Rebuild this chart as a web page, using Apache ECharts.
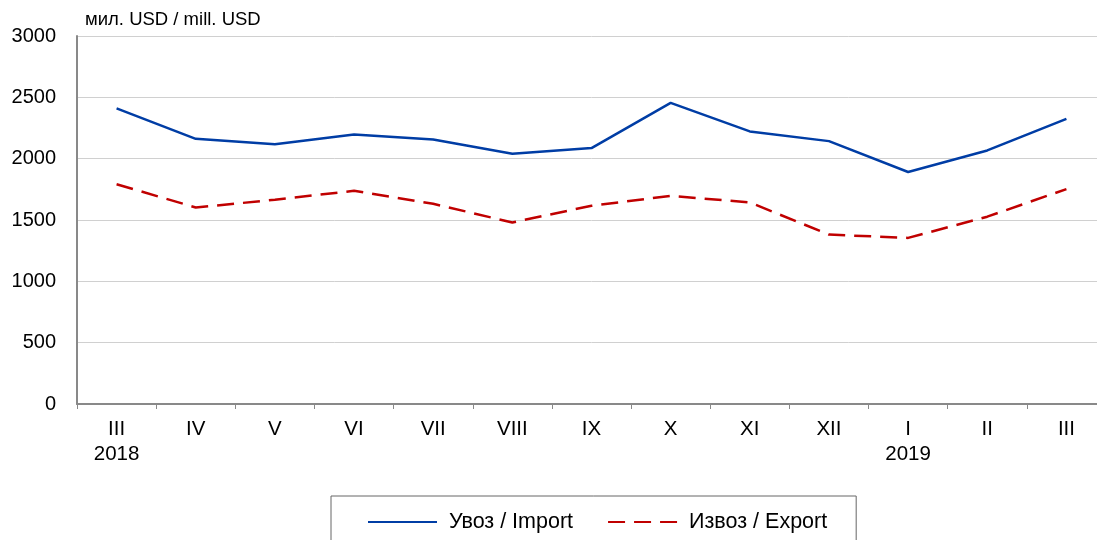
<!DOCTYPE html>
<html>
<head>
<meta charset="utf-8">
<script src="https://cdn.jsdelivr.net/npm/echarts@6/dist/echarts.min.js"></script>
<style>html,body{margin:0;padding:0;background:#fff;overflow:hidden;width:1097px;height:540px;}#c{width:1106px;height:540px;}</style>
</head>
<body>
<div id="c"></div>
<script>
var categories = ['III\n2018','IV','V','VI','VII','VIII','IX','X','XI','XII','I\n2019','II','III'];
var importValues = [2410, 2162, 2118, 2197, 2157, 2040, 2086, 2455, 2222, 2143, 1891, 2067, 2325];
var exportValues = [1792, 1602, 1665, 1738, 1632, 1480, 1616, 1697, 1643, 1381, 1354, 1527, 1752];
var seriesNames = ['Увоз / Import', 'Извоз / Export'];
var unitLabel = 'мил. USD / mill. USD';

var chart = echarts.init(document.getElementById('c'), null, {renderer: 'canvas'});
var font = 'Liberation Sans, Arial, sans-serif';
chart.setOption({
  animation: false,
  backgroundColor: '#fff',
  textStyle: {fontFamily: font},
  graphic: [{type: 'text', left: 85, top: 10, style: {text: unitLabel, font: '18.5px Liberation Sans, Arial, sans-serif', fill: '#000'}}],
  grid: {left: 77, top: 36, right: 0, height: 368},
  xAxis: {
    type: 'category',
    data: categories,
    boundaryGap: true,
    axisLine: {lineStyle: {color: '#898989', width: 2}},
    axisTick: {show: true, length: 5, lineStyle: {color: '#898989', width: 1}},
    axisLabel: {color: '#000', fontSize: 20.5, fontFamily: font, margin: 13, lineHeight: 25, verticalAlign: 'top'}
  },
  yAxis: {
    type: 'value', min: 0, max: 3000, interval: 500,
    axisLine: {show: true, lineStyle: {color: '#898989', width: 2}},
    axisTick: {show: false},
    axisLabel: {color: '#000', fontSize: 20, fontFamily: font, margin: 21, formatter: function (v) { return String(v); }},
    splitLine: {lineStyle: {color: '#d0d0d0', width: 1}}
  },
  legend: {
    left: 331, top: 496,
    padding: [15, 29, 20, 36],
    borderColor: '#666', borderWidth: 1,
    itemWidth: 69, itemHeight: 14, itemGap: 34,
    itemStyle: {opacity: 0},
    textStyle: {fontSize: 21.5, color: '#000', fontFamily: font, padding: [0, 0, 0, 7]},
    data: seriesNames
  },
  series: [
    {name: seriesNames[0], type: 'line', data: importValues, symbol: 'none',
     lineStyle: {color: '#003DA5', width: 2.5}, itemStyle: {color: '#003DA5'}},
    {name: seriesNames[1], type: 'line', data: exportValues, symbol: 'none',
     lineStyle: {color: '#C00000', width: 2.5, type: [17, 9]}, itemStyle: {color: '#C00000'}}
  ]
});
</script>
</body>
</html>
